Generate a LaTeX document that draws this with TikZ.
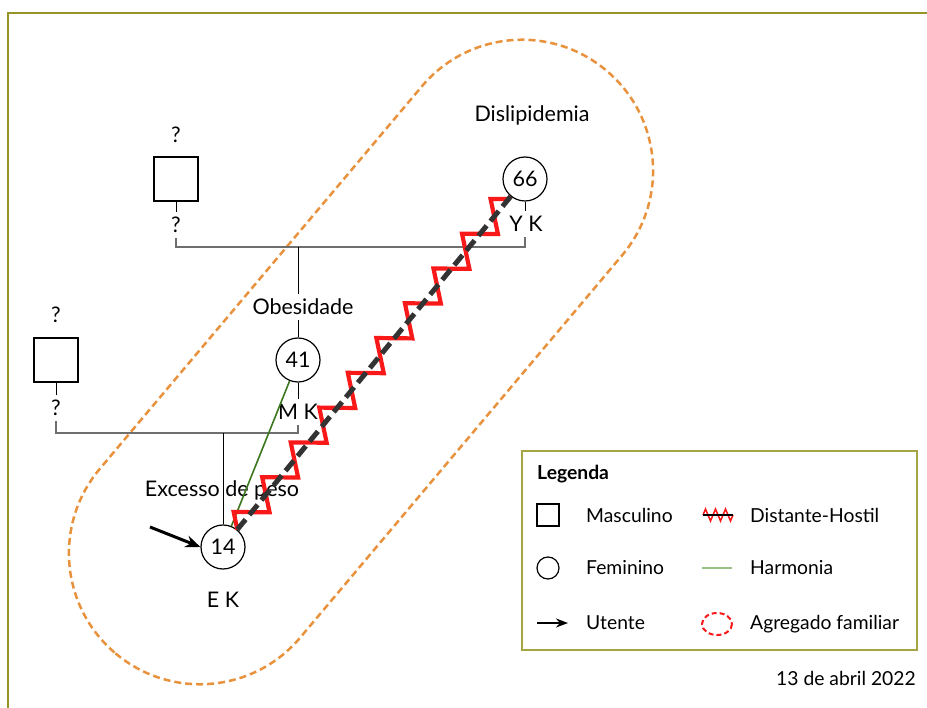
\documentclass[tikz,border=0pt]{standalone}
\usepackage{fontspec}
\setmainfont{Lato}
\usetikzlibrary{arrows.meta,decorations.pathmorphing}
\definecolor{framecol}{RGB}{150,150,40}
\definecolor{legcol}{RGB}{165,165,70}
\definecolor{familycol}{RGB}{233,146,62}
\definecolor{harmonycol}{RGB}{58,120,30}
\definecolor{harmonylight}{RGB}{150,195,130}
\definecolor{hostilecol}{RGB}{250,25,25}
\definecolor{unioncol}{RGB}{110,110,110}
\begin{document}
\begin{tikzpicture}[x=1pt,y=-1pt,
    every node/.style={font=\fontsize{21.5}{25}\selectfont},
    male/.style={draw,line width=1.2pt,minimum size=44pt,inner sep=0pt},
    female/.style={draw,circle,line width=1.2pt,minimum size=44pt,inner sep=0pt},
    lbl/.style={inner xsep=2pt,inner ysep=5pt},
    legtxt/.style={inner sep=0pt,anchor=west,font=\fontsize{19.3}{23}\selectfont},
    union/.style={unioncol,line width=2pt},
    utente/.style={line width=3pt,-{Stealth[length=15pt,width=12pt]}},
    hostil/.style={hostilecol,line width=4.2pt,miter limit=20,
        decorate,decoration={zigzag,segment length=45pt,amplitude=14pt}},
    distante/.style={black!80,line width=5pt,dash pattern=on 13pt off 6pt}]
	\useasboundingbox (0,0) rectangle (927,708);
	\draw [framecol,line width=2pt] (8,708) -- (8,13) -- (927,13);
	% agregado familiar
	\begin{scope}[shift={(361,362)},rotate=49.9]
		\draw [familycol,line width=2.5pt,dash pattern=on 7pt off 4pt,rounded corners=130.9pt]
			(-381,-131) rectangle (381,131);
	\end{scope}
	% avos
	\node[male] (avo) at (176,179) {};
	\node[lbl] at (176,135) {?};
	\node[lbl] (avoq) at (176,225) {?};
	\coordinate (avol) at (176,247);
	\node[female] (avoa) at (525,179) {66};
	\node[lbl] at (532,115) {Dislipidemia};
	\node[lbl] (avoak) at (526,224) {Y K};
	\coordinate (avoal) at (525,247);
	\draw [line width=1pt] (avo) -- (avoq);
	\draw [line width=1pt] (avoa) -- (avoa |- avoak.north);
	\draw [union] (avoq) -- (avol) -- (avoal) -- (avoal |- avoak.south);
	% mae
	\coordinate (c1) at (298,247);
	\node[lbl] (obes) at (303,307) {Obesidade};
	\node[female] (mae) at (298,360) {41};
	\node[lbl] (maek) at (298,412) {M K};
	\coordinate (mael) at (298,433);
	\draw [line width=1pt] (c1) -- (c1 |- obes.north);
	\draw [line width=1pt] (obes.south -| mae) -- (mae);
	\draw [line width=1pt] (mae) -- (maek);
	% pai
	\node[male] (pai) at (56,360) {};
	\node[lbl] at (56,315) {?};
	\node[lbl] (paiq) at (56,408) {?};
	\coordinate (pail) at (56,433);
	\draw [line width=1pt] (pai) -- (paiq);
	\draw [union] (paiq) -- (pail) -- (mael) -- (maek);
	% utente
	\coordinate (c2) at (223,433);
	\node[female] (ut) at (223,547) {14};
	\node[lbl] at (222,490) {Excesso de peso};
	\node[lbl] at (223,600) {E K};
	\coordinate (seta) at (150,527);
	\draw [line width=1pt] (c2) -- (ut);
	\draw [utente] (seta) -- (ut.west);
	% relacoes
	\draw [harmonycol,line width=1.6pt] (mae) -- (ut);
	\draw [hostil] (ut) -- (avoa);
	\draw [distante] (ut) -- (avoa);
	% legenda
	\draw [legcol,line width=1.8pt] (522,451) rectangle (917,650);
	\node[legtxt] at (537,474) {\bfseries Legenda};
	\node[male,minimum size=22pt] (lm) at (548,515) {};
	\node[legtxt] at (586,515) {Masculino};
	\node[female,minimum size=22pt] (lf) at (548,568) {};
	\node[legtxt] at (586,568) {Feminino};
	\coordinate (lu0) at (537,623);
	\coordinate (lu1) at (568,623);
	\draw [utente,line width=2pt,-{Stealth[length=12pt,width=9pt]}] (lu0) -- (lu1);
	\node[legtxt] at (586,623) {Utente};
	\coordinate (lh0) at (703,515);
	\coordinate (lh1) at (733,515);
	\draw [hostil,line width=1.5pt,decoration={zigzag,segment length=10pt,amplitude=6pt}] (lh0) -- (lh1);
	\draw [line width=1.2pt] (lh0) -- (lh1);
	\node[legtxt] at (750,515) {Distante-Hostil};
	\coordinate (lg0) at (702,568);
	\coordinate (lg1) at (732,568);
	\draw [harmonylight,line width=1.5pt] (lg0) -- (lg1);
	\node[legtxt] at (750,568) {Harmonia};
	\draw [hostilecol,line width=2pt,dash pattern=on 5pt off 3pt] (717,624) ellipse [x radius=15,y radius=11];
	\node[legtxt] at (750,624) {Agregado familiar};
	\node[legtxt,anchor=east] at (916,678) {13 de abril 2022};
\end{tikzpicture}
\end{document}
